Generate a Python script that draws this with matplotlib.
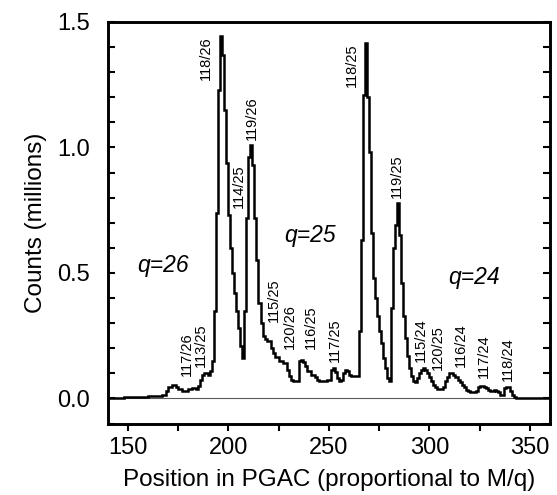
import numpy as np
import matplotlib.pyplot as plt
import matplotlib as mpl
from matplotlib.ticker import MultipleLocator

mpl.rcParams["font.family"] = ["Liberation Sans", "DejaVu Sans"]
mpl.rcParams["font.size"] = 17

# Left edge of each PGAC position bin and its count (millions); last edge closes the range
edges = [140, 144, 148, 152, 156, 160, 164, 167, 169, 170, 172, 174, 175, 177, 179,
         180, 182, 184, 185, 186, 187, 188, 190, 191, 192, 193, 194, 195, 196, 197,
         198, 199, 200, 201, 202, 203, 204, 205, 206, 207, 208, 209, 210, 211, 212,
         213, 214, 215, 216, 217, 218, 219, 221, 222, 223, 225, 227, 229, 230, 231,
         232, 235, 236, 237, 238, 239, 241, 243, 244, 245, 247, 249, 251, 252, 253,
         254, 255, 256, 257, 258, 259, 260, 261, 265, 266, 267, 268, 269, 270, 271,
         272, 273, 274, 275, 276, 277, 278, 279, 280, 281, 282, 283, 284, 285, 286,
         287, 288, 289, 290, 291, 292, 293, 294, 295, 296, 297, 298, 299, 300, 301,
         302, 303, 304, 307, 308, 309, 310, 312, 313, 314, 315, 316, 317, 318, 319,
         320, 323, 324, 325, 327, 328, 329, 330, 332, 333, 334, 335, 337, 338, 340,
         341, 342, 343, 360]
counts = [0.001, 0.003, 0.004, 0.005, 0.007, 0.009, 0.011, 0.014, 0.030, 0.045, 0.052,
          0.045, 0.038, 0.030, 0.028, 0.036, 0.042, 0.038, 0.050, 0.072, 0.095, 0.100,
          0.092, 0.110, 0.150, 0.350, 0.740, 1.230, 1.444, 1.370, 1.150, 0.940, 0.730,
          0.600, 0.500, 0.420, 0.350, 0.280, 0.210, 0.160, 0.350, 0.720, 0.960, 1.010,
          0.930, 0.720, 0.550, 0.380, 0.300, 0.250, 0.235, 0.230, 0.200, 0.180, 0.165,
          0.150, 0.140, 0.115, 0.090, 0.075, 0.070, 0.150, 0.155, 0.145, 0.130, 0.110,
          0.095, 0.085, 0.075, 0.068, 0.070, 0.072, 0.115, 0.120, 0.105, 0.080, 0.070,
          0.075, 0.100, 0.115, 0.110, 0.095, 0.090, 0.270, 0.630, 1.210, 1.417, 1.200,
          0.980, 0.660, 0.480, 0.400, 0.330, 0.270, 0.220, 0.160, 0.120, 0.080, 0.070,
          0.360, 0.600, 0.690, 0.780, 0.650, 0.460, 0.330, 0.240, 0.170, 0.120, 0.090,
          0.070, 0.065, 0.080, 0.100, 0.115, 0.120, 0.115, 0.100, 0.085, 0.070, 0.055,
          0.045, 0.036, 0.045, 0.070, 0.085, 0.100, 0.095, 0.085, 0.075, 0.065, 0.055,
          0.045, 0.035, 0.028, 0.025, 0.030, 0.045, 0.050, 0.045, 0.040, 0.035, 0.030,
          0.033, 0.030, 0.025, 0.015, 0.040, 0.045, 0.030, 0.015, 0.005, 0.002]

# peak assignments (mass/charge): text, x position, bottom of text
peak_names = ["117/26", "113/25", "118/26", "114/25", "119/26", "115/25", "120/26",
              "116/25", "117/25", "118/25", "119/25", "115/24", "120/25", "116/24",
              "117/24", "118/24"]
peak_x = [179.6, 186.2, 188.7, 205.0, 211.7, 222.5, 230.8, 241.2, 252.8, 261.6,
          284.0, 295.6, 304.0, 315.6, 327.2, 338.9]
peak_y = [0.09, 0.125, 1.27, 0.76, 1.03, 0.305, 0.195, 0.195, 0.145, 1.24,
          0.80, 0.147, 0.115, 0.127, 0.083, 0.068]

charge_names = ["q=26", "q=25", "q=24"]
charge_x = [167.7, 240.8, 322.3]
charge_y = [0.53, 0.65, 0.48]

fig = plt.figure(figsize=(5.57, 4.95), dpi=100)
ax = fig.add_axes([0.1934, 0.1444, 0.7940, 0.8112])

ax.axhline(0, color="0.35", lw=0.8, zorder=1)
ax.stairs(counts, edges, baseline=None, color="black", lw=1.8, zorder=2)

for name, x, y in zip(peak_names, peak_x, peak_y):
    ax.text(x, y, name, rotation=90, ha="center", va="bottom", fontsize=10.5)
for name, x, y in zip(charge_names, charge_x, charge_y):
    ax.text(x, y, name, ha="center", va="center", fontsize=16.5, style="italic")

ax.set_xlim(140, 360)
ax.set_ylim(-0.1, 1.5)
ax.xaxis.set_major_locator(MultipleLocator(50))
ax.xaxis.set_minor_locator(MultipleLocator(25))
ax.yaxis.set_major_locator(MultipleLocator(0.5))
ax.yaxis.set_minor_locator(MultipleLocator(0.1))
ax.yaxis.set_major_formatter(mpl.ticker.FormatStrFormatter("%.1f"))

ax.tick_params(axis="x", which="both", direction="out", length=5, width=1.5, pad=5,
               top=False)
ax.tick_params(axis="y", which="both", direction="in", length=5, width=1.5, pad=12.5,
               left=True, right=True)
for s in ax.spines.values():
    s.set_linewidth(2.1)

ax.set_xlabel("Position in PGAC (proportional to M/q)", fontsize=17.5, labelpad=7)
ax.set_ylabel("Counts (millions)", fontsize=17.5, labelpad=8)

fig.savefig("out.png", dpi=100)
